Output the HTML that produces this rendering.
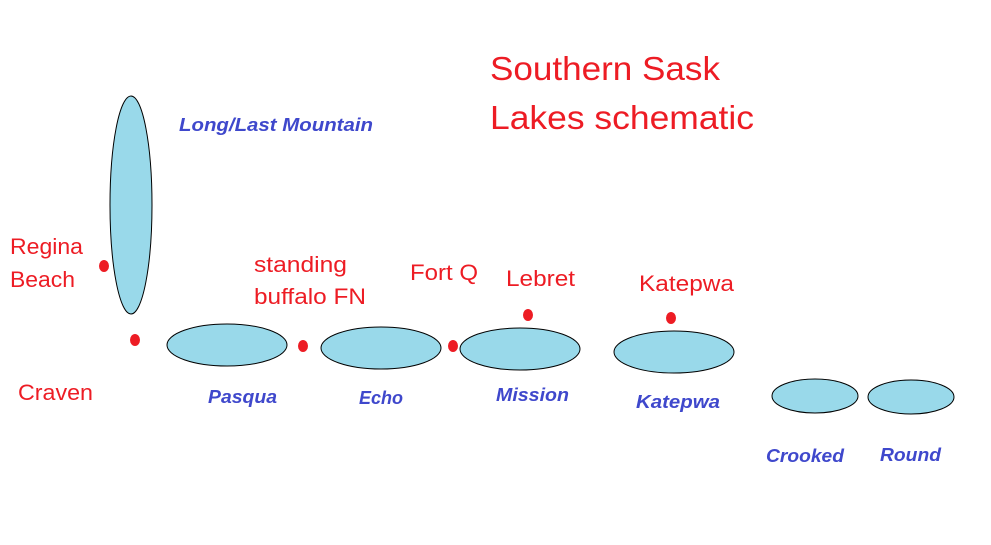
<!DOCTYPE html>
<html><head><meta charset="utf-8"><style>
html,body{margin:0;padding:0;background:#fff;}
svg{display:block;}
.r{fill:#ed1c24;font-family:"Liberation Sans",sans-serif;font-size:22px;}
.b{fill:#3f48cc;font-family:"Liberation Sans",sans-serif;font-size:18px;font-weight:bold;font-style:italic;}
.t{fill:#ed1c24;font-family:"Liberation Sans",sans-serif;font-size:33px;}
ellipse.l{fill:#99d9ea;stroke:#000;stroke-width:1;}
ellipse.d{fill:#ed1c24;}
</style></head><body>
<svg width="991" height="545" viewBox="0 0 991 545" xmlns="http://www.w3.org/2000/svg">
<ellipse class="l" cx="131" cy="205" rx="21" ry="109"/>
<ellipse class="l" cx="227" cy="345" rx="60" ry="21"/>
<ellipse class="l" cx="381" cy="348" rx="60" ry="21"/>
<ellipse class="l" cx="520" cy="349" rx="60" ry="21"/>
<ellipse class="l" cx="674" cy="352" rx="60" ry="21"/>
<ellipse class="l" cx="815" cy="396" rx="43" ry="17"/>
<ellipse class="l" cx="911" cy="397" rx="43" ry="17"/>
<ellipse class="d" cx="104" cy="266" rx="5" ry="6"/>
<ellipse class="d" cx="135" cy="340" rx="5" ry="6"/>
<ellipse class="d" cx="303" cy="346" rx="5" ry="6"/>
<ellipse class="d" cx="453" cy="346" rx="5" ry="6"/>
<ellipse class="d" cx="528" cy="315" rx="5" ry="6"/>
<ellipse class="d" cx="671" cy="318" rx="5" ry="6"/>
<text class="t" x="490" y="80" textLength="230" lengthAdjust="spacingAndGlyphs">Southern Sask</text>
<text class="t" x="490" y="129" textLength="264" lengthAdjust="spacingAndGlyphs">Lakes schematic</text>
<text class="b" x="179" y="131" textLength="194" lengthAdjust="spacingAndGlyphs">Long/Last Mountain</text>
<text class="r" x="10" y="254" textLength="73" lengthAdjust="spacingAndGlyphs">Regina</text>
<text class="r" x="10" y="287" textLength="65" lengthAdjust="spacingAndGlyphs">Beach</text>
<text class="r" x="254" y="272" textLength="93" lengthAdjust="spacingAndGlyphs">standing</text>
<text class="r" x="254" y="304" textLength="112" lengthAdjust="spacingAndGlyphs">buffalo FN</text>
<text class="r" x="410" y="280" textLength="68" lengthAdjust="spacingAndGlyphs">Fort Q</text>
<text class="r" x="506" y="286" textLength="69" lengthAdjust="spacingAndGlyphs">Lebret</text>
<text class="r" x="639" y="291" textLength="95" lengthAdjust="spacingAndGlyphs">Katepwa</text>
<text class="r" x="18" y="400" textLength="75" lengthAdjust="spacingAndGlyphs">Craven</text>
<text class="b" x="208" y="403" textLength="69" lengthAdjust="spacingAndGlyphs">Pasqua</text>
<text class="b" x="359" y="404" textLength="44" lengthAdjust="spacingAndGlyphs">Echo</text>
<text class="b" x="496" y="401" textLength="73" lengthAdjust="spacingAndGlyphs">Mission</text>
<text class="b" x="636" y="408" textLength="84" lengthAdjust="spacingAndGlyphs">Katepwa</text>
<text class="b" x="766" y="462" textLength="78" lengthAdjust="spacingAndGlyphs">Crooked</text>
<text class="b" x="880" y="461" textLength="61" lengthAdjust="spacingAndGlyphs">Round</text>
</svg>
</body></html>
